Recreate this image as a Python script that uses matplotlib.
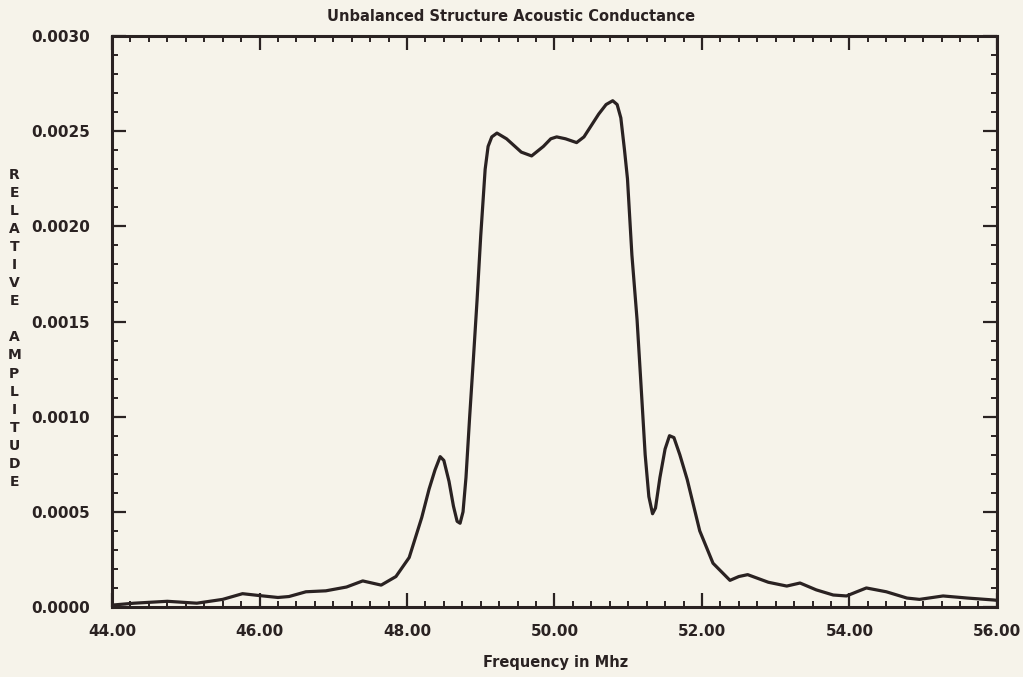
import numpy as np
import matplotlib
matplotlib.use('Agg')
import matplotlib.pyplot as plt
from matplotlib.ticker import MultipleLocator, FormatStrFormatter

# values (frequency in MHz, relative amplitude)
freq = [44.00, 44.30, 44.75, 45.15, 45.50, 45.77, 46.00, 46.25, 46.40, 46.63,
        46.90, 47.18, 47.40, 47.65, 47.85, 48.03, 48.20, 48.30, 48.38, 48.45,
        48.50, 48.57, 48.63, 48.68, 48.72, 48.76, 48.80, 48.85, 48.90, 48.95,
        49.00, 49.06, 49.10, 49.15, 49.22, 49.35, 49.55, 49.69, 49.85, 49.95,
        50.03, 50.15, 50.30, 50.40, 50.50, 50.60, 50.70, 50.79, 50.85, 50.90,
        50.95, 50.99, 51.05, 51.12, 51.17, 51.23, 51.28, 51.33, 51.37, 51.43,
        51.50, 51.56, 51.62, 51.70, 51.80, 51.97, 52.15, 52.38, 52.50, 52.62,
        52.90, 53.15, 53.33, 53.55, 53.78, 53.96, 54.10, 54.23, 54.50, 54.78,
        54.95, 55.27, 55.60, 55.95, 56.00]
amp = [0.000010, 0.000020, 0.000030, 0.000020, 0.000040, 0.000070, 0.000060,
       0.000050, 0.000055, 0.000080, 0.000085, 0.000105, 0.000137, 0.000115,
       0.000160, 0.000260, 0.000470, 0.000620, 0.000720, 0.000790, 0.000770,
       0.000660, 0.000530, 0.000450, 0.000440, 0.000500, 0.000680, 0.001000,
       0.001300, 0.001610, 0.001950, 0.002300, 0.002420, 0.002470, 0.002490,
       0.002460, 0.002390, 0.002370, 0.002420, 0.002460, 0.002470, 0.002460,
       0.002440, 0.002470, 0.002530, 0.002590, 0.002640, 0.002660, 0.002640,
       0.002570, 0.002400, 0.002250, 0.001850, 0.001510, 0.001190, 0.000800,
       0.000580, 0.000490, 0.000520, 0.000680, 0.000830, 0.000900, 0.000890,
       0.000800, 0.000670, 0.000400, 0.000230, 0.000140, 0.000160, 0.000170,
       0.000130, 0.000110, 0.000126, 0.000090, 0.000063, 0.000058, 0.000080,
       0.000100, 0.000080, 0.000047, 0.000040, 0.000058, 0.000047, 0.000037,
       0.000035]

title = 'Unbalanced Structure Acoustic Conductance'
xlabel = 'Frequency in Mhz'
ylabel = 'RELATIVE AMPLITUDE'

paper = '#f6f3ea'
ink = '#2a2222'

plt.rcParams.update({'font.family': 'DejaVu Sans', 'font.weight': 'bold'})

fig = plt.figure(figsize=(10.23, 6.77), dpi=100, facecolor=paper)
ax = fig.add_axes([0.1095, 0.1034, 0.865, 0.8434], facecolor=paper)

ax.plot(freq, amp, color=ink, lw=2.3, solid_joinstyle='round', solid_capstyle='round')

ax.set_xlim(44, 56)
ax.set_ylim(0, 0.003)
ax.xaxis.set_major_locator(MultipleLocator(2))
ax.xaxis.set_minor_locator(MultipleLocator(0.25))
ax.yaxis.set_major_locator(MultipleLocator(0.0005))
ax.yaxis.set_minor_locator(MultipleLocator(0.0001))
ax.xaxis.set_major_formatter(FormatStrFormatter('%.2f'))
ax.yaxis.set_major_formatter(FormatStrFormatter('%.4f'))

ax.tick_params(which='both', direction='in', top=True, right=True, color=ink,
               labelcolor=ink, labelsize=11)
ax.tick_params(which='major', length=10, width=1.6)
ax.tick_params(which='minor', length=4, width=1.4)
ax.tick_params(axis='x', which='major', pad=12)
ax.tick_params(axis='y', which='major', pad=16)
for sp in ax.spines.values():
    sp.set_linewidth(2.2)
    sp.set_color(ink)

fig.text(0.5, 0.976, title, ha='center', va='center', fontsize=10.5, color=ink)
fig.text(0.543, 0.022, xlabel, ha='center', va='center', fontsize=10.5, color=ink)
fig.text(0.014, 0.515, '\n'.join(ylabel), ha='center', va='center', fontsize=10,
         color=ink, linespacing=1.37)

fig.savefig('out.png', dpi=100, facecolor=paper)
